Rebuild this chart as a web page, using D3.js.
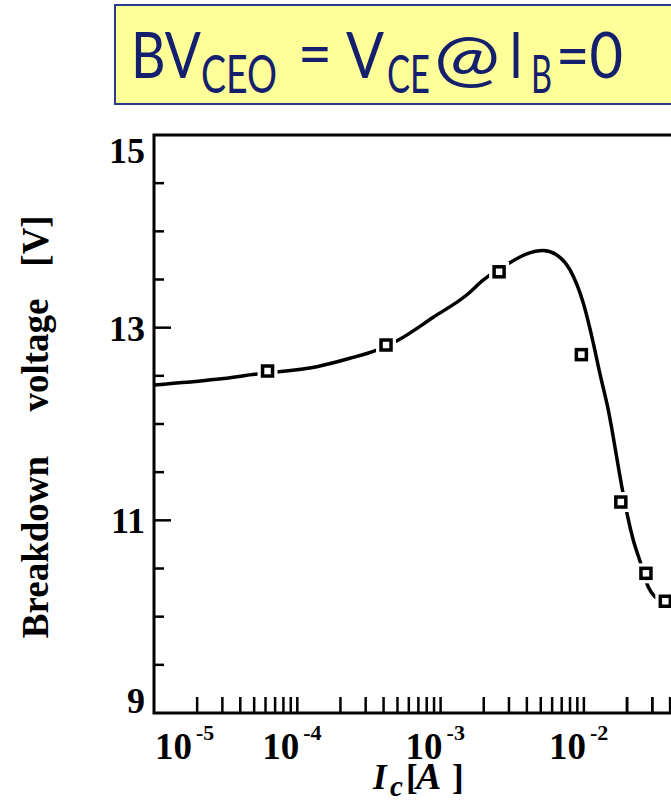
<!DOCTYPE html>
<html>
<head>
<meta charset="utf-8">
<script src="https://cdn.jsdelivr.net/npm/d3@7"></script>
<style>
  body { margin: 0; background: #fff; }
  svg { display: block; }
</style>
</head>
<body>
<svg width="671" height="800"></svg>
<script>
const width = 671, height = 800;
const svg = d3.select("svg").attr("width", width).attr("height", height);

// measured points (squares)
const pointIc = [6.2e-5, 4.16e-4, 2.56e-3, 9.6e-3, 1.81e-2, 2.71e-2, 3.7e-2];
const pointBV = [12.55, 12.82, 13.58, 12.72, 11.19, 10.45, 10.16];

// fitted curve
const curveIc = [1e-5, 2.74e-5, 5.26e-5, 1.37e-4, 2.33e-4, 3.58e-4, 5.07e-4, 8.89e-4, 1.52e-3, 1.99e-3,
                 3.13e-3, 3.99e-3, 5.21e-3, 6.46e-3, 8.0e-3, 9.91e-3, 1.164e-2, 1.29e-2, 1.48e-2,
                 1.84e-2, 2.01e-2, 2.21e-2, 2.47e-2, 2.81e-2, 3.13e-2, 3.5e-2];
const curveBV = [12.405, 12.464, 12.52, 12.595, 12.682, 12.768, 12.872, 13.108, 13.339, 13.495,
                 13.685, 13.765, 13.80, 13.755, 13.599, 13.253, 12.838, 12.53, 12.145,
                 11.349, 11.055, 10.796, 10.571, 10.311, 10.207, 10.17];

const yLabels = [9, 11, 13, 15];
const xDecades = [-5, -4, -3, -2];

// Scales
const x = d3.scaleLog().domain([1e-5, 1e-1]).range([154, 154 + 4 * 143.3]);
const y = d3.scaleLinear().domain([9, 15]).range([713, 135]);

// Title box
const title = svg.append("g");
title.append("rect")
    .attr("x", 115).attr("y", 5).attr("width", 600).attr("height", 99)
    .attr("fill", "#ffff99").attr("stroke", "#2b3a8f").attr("stroke-width", 2);

const tFont = "Lato, 'Open Sans', sans-serif";
const titleParts = [
    { t: "BV", x: 131, y: 78, s: 64, w: 70 },
    { t: "CEO", x: 201, y: 93, s: 52, w: 76 },
    { t: "=", x: 298, y: 76, s: 64, w: 34 },
    { t: "V", x: 346, y: 78, s: 64, w: 38 },
    { t: "CE", x: 387, y: 93, s: 52, w: 43 },
    { t: "@", x: 434, y: 80, s: 64, w: 66 },
    { t: "I", x: 509, y: 78, s: 64, w: 14 },
    { t: "B", x: 531, y: 93, s: 52, w: 21 },
    { t: "=0", x: 556, y: 78, s: 64, w: 67 }
];
titleParts.forEach(p => {
    title.append("text")
        .attr("x", p.x).attr("y", p.y)
        .attr("font-family", tFont)
        .attr("font-size", p.s)
        .attr("fill", "#14206e")
        .attr("textLength", p.w)
        .attr("lengthAdjust", "spacingAndGlyphs")
        .text(p.t);
});

// Frame
svg.append("rect")
    .attr("x", x.range()[0]).attr("y", y.range()[1])
    .attr("width", x.range()[1] - x.range()[0])
    .attr("height", y.range()[0] - y.range()[1])
    .attr("fill", "none").attr("stroke", "#000").attr("stroke-width", 3);

// X minor ticks (2..10 per decade)
const xTicks = [];
xDecades.forEach(d => {
    for (let k = 2; k <= 10; k++) xTicks.push(k * Math.pow(10, d));
});
xTicks.push(2e-2, 3e-2, 4e-2);

svg.append("g").selectAll("line")
    .data(xTicks)
    .enter().append("line")
    .attr("x1", d => x(d)).attr("x2", d => x(d))
    .attr("y1", y(9)).attr("y2", y(9) - 16)
    .attr("stroke", "#000").attr("stroke-width", 2.5);

// Y ticks every 0.5
const yTicks = d3.range(9.5, 15, 0.5);
svg.append("g").selectAll("line")
    .data(yTicks)
    .enter().append("line")
    .attr("x1", x(1e-5)).attr("x2", d => x(1e-5) + (d % 2 === 1 ? 17 : 10))
    .attr("y1", d => y(d)).attr("y2", d => y(d))
    .attr("stroke", "#000").attr("stroke-width", 2.5);

const serif = "'Liberation Serif', 'Times New Roman', serif";

// Y labels
svg.append("g").selectAll("text")
    .data(yLabels)
    .enter().append("text")
    .attr("x", 145)
    .attr("y", d => d === 15 ? y(d) + 28 : d === 9 ? y(d) : y(d) + 13)
    .attr("text-anchor", "end")
    .attr("font-family", serif)
    .attr("font-weight", "bold")
    .attr("font-size", 36)
    .text(d => d);

// X labels: 10^n
const xl = svg.append("g");
xDecades.forEach(d => {
    const xr = Math.max(x(Math.pow(10, d)) + 2, x(1e-5) + 38);
    xl.append("text")
        .attr("x", xr).attr("y", 759)
        .attr("text-anchor", "end")
        .attr("font-family", serif).attr("font-weight", "bold")
        .attr("font-size", 37)
        .text("10");
    xl.append("text")
        .attr("x", xr + 4).attr("y", 740)
        .attr("font-family", serif).attr("font-weight", "bold")
        .attr("font-size", 22)
        .text(d);
});

// Axis titles
const yt = svg.append("g").attr("font-family", serif).attr("font-weight", "bold").attr("font-size", 37);
[["Breakdown", 547], ["voltage", 355], ["[V]", 241]].forEach(([t, cy]) => {
    yt.append("text")
        .attr("transform", `translate(48,${cy}) rotate(-90)`)
        .attr("text-anchor", "middle")
        .text(t);
});

const xt = svg.append("text")
    .attr("y", 789)
    .attr("font-family", serif).attr("font-weight", "bold")
    .attr("font-size", 35);
xt.append("tspan").attr("x", 373).attr("font-style", "italic").text("I");
xt.append("tspan").attr("x", 390).attr("font-style", "italic").attr("font-size", 29).attr("dy", 7).text("c");
xt.append("tspan").attr("x", 406).attr("dy", -7).text("[");
xt.append("tspan").attr("x", 416).attr("font-style", "italic").attr("font-size", 38).text("A");
xt.append("tspan").attr("x", 452).text("]");

// Curve
const line = d3.line()
    .x(d => x(d[0]))
    .y(d => y(d[1]))
    .curve(d3.curveMonotoneX);

svg.append("path")
    .datum(curveIc.map((v, i) => [v, curveBV[i]]))
    .attr("d", line)
    .attr("fill", "none")
    .attr("stroke", "#000")
    .attr("stroke-width", 3.5);

// Square markers with white halo
const pts = pointIc.map((v, i) => [v, pointBV[i]]);
svg.append("g").selectAll("rect")
    .data(pts)
    .enter().append("rect")
    .attr("x", d => x(d[0]) - 10).attr("y", d => y(d[1]) - 10)
    .attr("width", 20).attr("height", 20)
    .attr("fill", "#fff");

svg.append("g").selectAll("rect")
    .data(pts)
    .enter().append("rect")
    .attr("x", d => x(d[0]) - 5).attr("y", d => y(d[1]) - 5)
    .attr("width", 10).attr("height", 10)
    .attr("fill", "#fff").attr("stroke", "#000").attr("stroke-width", 3.5);
</script>
</body>
</html>
